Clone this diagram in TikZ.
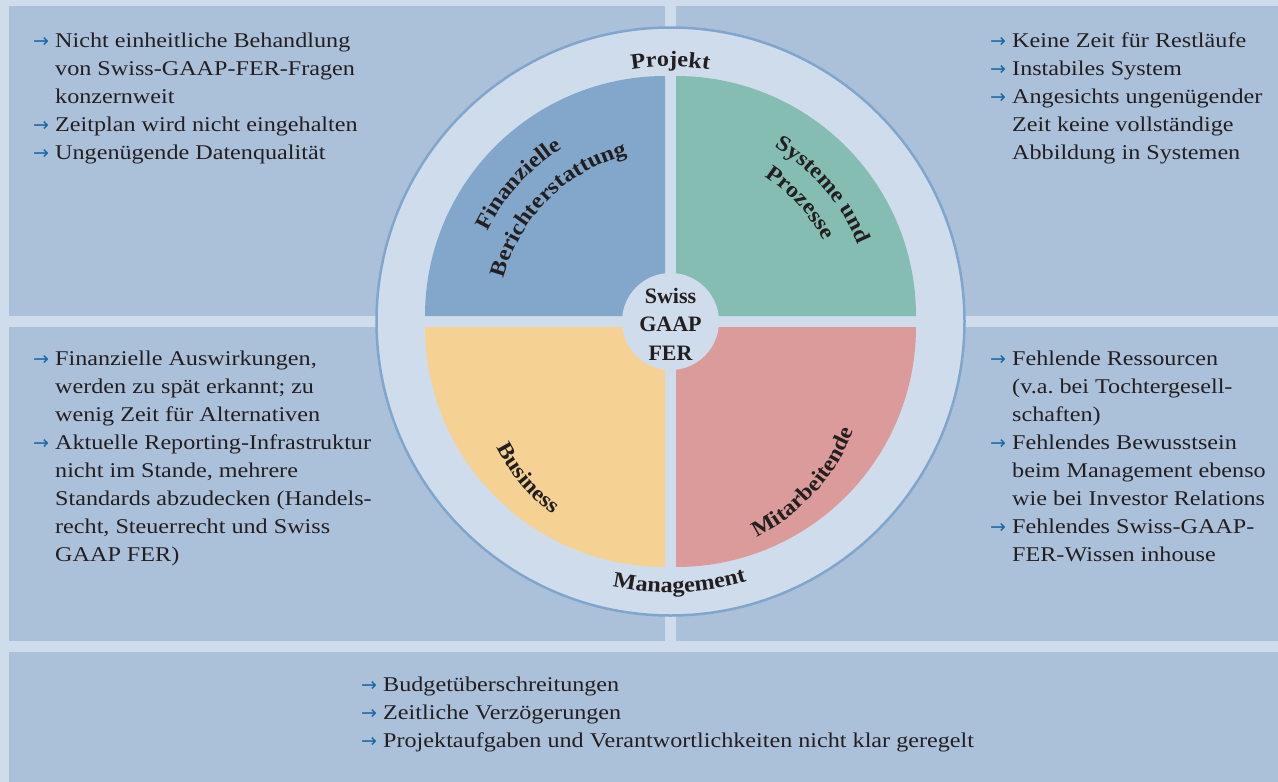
\documentclass[tikz,border=0pt]{standalone}
\usepackage{fontspec}
\setmainfont{Liberation Serif}[FakeStretch=1.15]
\newfontfamily\lblfam{Liberation Serif}[FakeStretch=1.1]
\newfontfamily\ctrfam{Liberation Serif}
\newfontfamily\arrfont{DejaVu Sans}
\usetikzlibrary{decorations.text}
\definecolor{bgc}{HTML}{CFDCEC}
\definecolor{panelc}{HTML}{ABC1DA}
\definecolor{ringline}{HTML}{80A6CC}
\definecolor{qblue}{HTML}{82A7CA}
\definecolor{qgreen}{HTML}{86BDB2}
\definecolor{qyellow}{HTML}{F5D293}
\definecolor{qred}{HTML}{DA9B9A}
\definecolor{arrowblue}{HTML}{1A69A6}
\definecolor{textc}{HTML}{231F20}
\newcommand\bul{\makebox[22pt][l]{\textcolor{arrowblue}{\arrfont\fontsize{19}{28}\selectfont →}}}
\newcommand\ind{\hspace*{22pt}}
\newcommand\lblfont{\lblfam\bfseries\fontsize{22}{28}\selectfont\color{textc}}
\begin{document}
\begin{tikzpicture}[x=1pt,y=1pt,
  panel/.style={fill=panelc, draw=none},
  lst/.style={anchor=north west, inner sep=0pt, align=left, font=\fontsize{21}{28}\selectfont, text=textc},
  curved/.style={decorate, decoration={text along path, text align=center, text={|\lblfont|#1}}}
]
\useasboundingbox (0,0) rectangle (1278,-782);
\fill[bgc] (0,0) rectangle (1278,-782);
% panels
\path[panel] (9,-6) rectangle (665,-316);
\path[panel] (676,-6) rectangle (1278,-316);
\path[panel] (9,-327) rectangle (665,-641);
\path[panel] (676,-327) rectangle (1278,-641);
\path[panel] (9,-652) rectangle (1278,-782);
% outer ring
\coordinate (C) at (670.5,-321.5);
\coordinate (Cb) at (668.5,-360);
\draw[ringline, line width=2.5pt, fill=bgc] (C) circle[radius=294];
% quadrants
\fill[qblue] (665,-316) -- ++(-240,0) arc[start angle=180, end angle=90, radius=240] -- cycle;
\fill[qgreen] (676,-316) -- ++(0,240) arc[start angle=90, end angle=0, radius=240] -- cycle;
\fill[qyellow] (665,-327) -- ++(0,-240) arc[start angle=270, end angle=180, radius=240] -- cycle;
\fill[qred] (676,-327) -- ++(240,0) arc[start angle=0, end angle=-90, radius=240] -- cycle;
% centre
\fill[bgc] (C) circle[radius=48.5];
\node[inner sep=0pt, anchor=north, align=center, font=\ctrfam\bfseries\fontsize{22}{28.3}\selectfont, text=textc] (sgf) at (670.5,-283.5) {\strut Swiss\\GAAP\\FER};
% curved labels
\path[curved=Projekt] (C) ++(110:255) arc[start angle=110, end angle=70, radius=255];
\path[curved=Management] (C) ++(-118:271) arc[start angle=-118, end angle=-58, radius=271];
\path[curved=Finanzielle] (C) ++(168:204) arc[start angle=168, end angle=108, radius=204];
\path[curved=Berichterstattung] (C) ++(180:172) arc[start angle=180, end angle=90, radius=172];
\path[curved=Systeme und] (C) ++(80.8:203) arc[start angle=80.8, end angle=0.8, radius=203];
\path[curved=Prozesse] (C) ++(82.4:173) arc[start angle=82.4, end angle=2.4, radius=173];
\path[curved=Business] (Cb) ++(190.1:193) arc[start angle=190.1, end angle=250.1, radius=193];
\path[curved=Mitarbeitende] (Cb) ++(277.8:198) arc[start angle=277.8, end angle=357.8, radius=198];
% lists
\node[lst] (tl) at (33,-27.4) {\strut\bul Nicht einheitliche Behandlung\\
\ind von Swiss-GAAP-FER-Fragen\\
\ind konzernweit\\
\bul Zeitplan wird nicht eingehalten\\
\bul Ungenügende Datenqualität};
\node[lst] (tr) at (990,-27.4) {\strut\bul Keine Zeit für Restläufe\\
\bul Instabiles System\\
\bul Angesichts ungenügender\\
\ind Zeit keine vollständige\\
\ind Abbildung in Systemen};
\node[lst] (ml) at (33,-345.4) {\strut\bul Finanzielle Auswirkungen,\\
\ind werden zu spät erkannt; zu\\
\ind wenig Zeit für Alternativen\\
\bul Aktuelle Reporting-Infrastruktur\\
\ind nicht im Stande, mehrere\\
\ind Standards abzudecken (Handels-\\
\ind recht, Steuerrecht und Swiss\\
\ind GAAP FER)};
\node[lst] (mr) at (990,-345.4) {\strut\bul Fehlende Ressourcen\\
\ind (v.a.\ bei Tochtergesell-\\
\ind schaften)\\
\bul Fehlendes Bewusstsein\\
\ind beim Management ebenso\\
\ind wie bei Investor Relations\\
\bul Fehlendes Swiss-GAAP-\\
\ind FER-Wissen inhouse};
\node[lst] (bt) at (361,-671.4) {\strut\bul Budgetüberschreitungen\\
\bul Zeitliche Verzögerungen\\
\bul Projektaufgaben und Verantwortlichkeiten nicht klar geregelt};
\end{tikzpicture}
\end{document}
